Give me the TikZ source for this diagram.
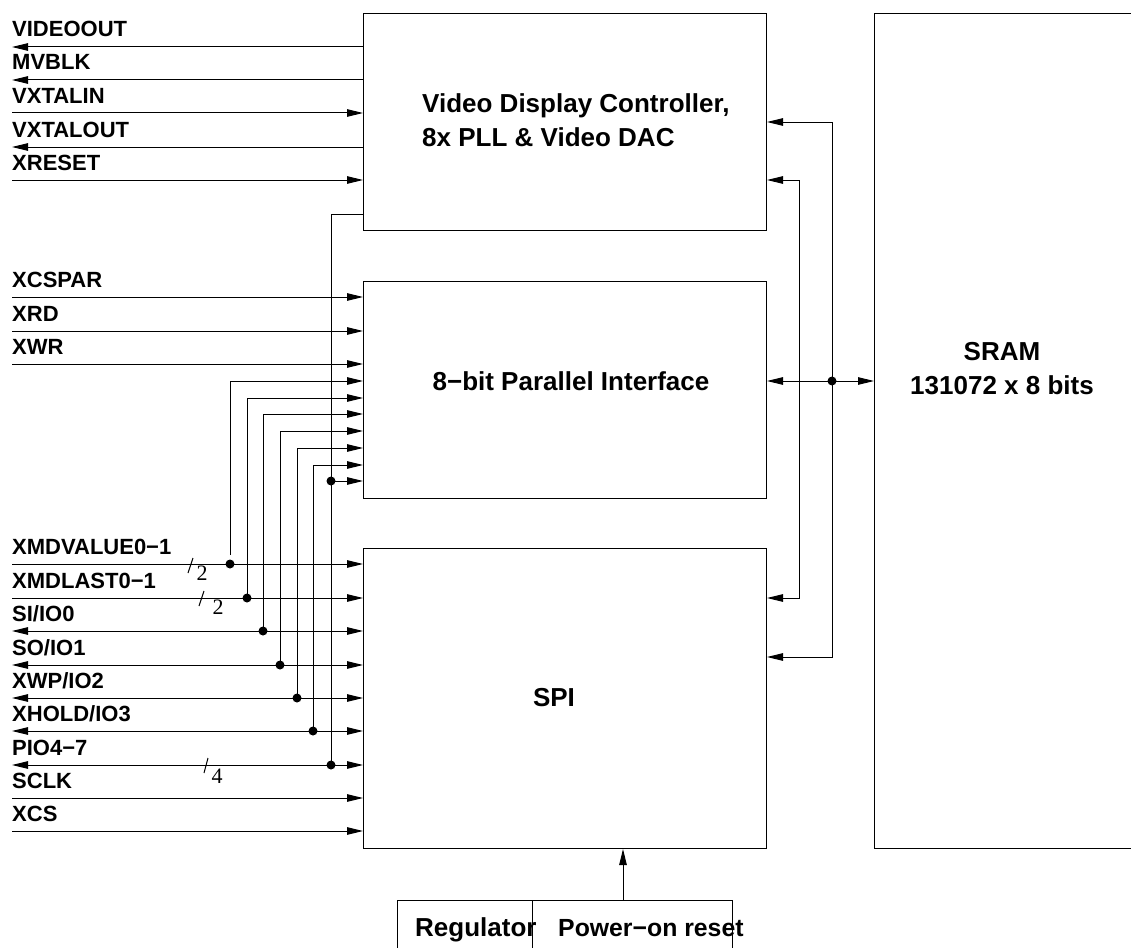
\documentclass[tikz,border=0pt]{standalone}
\usepackage{fontspec}
\setmainfont{Liberation Sans}
\newfontfamily\numfont{Liberation Serif}
\usetikzlibrary{arrows.meta}
\tikzset{
  sig/.style={line width=1pt},
  tip/.style={},
  sigin/.style={-{Triangle[length=16pt,width=7.5pt]}},
  sigout/.style={{Triangle[length=16pt,width=7.5pt]}-},
  sigbi/.style={{Triangle[length=16pt,width=7.5pt]}-{Triangle[length=16pt,width=7.5pt]}},
  blk/.style={draw, line width=1pt, inner sep=0pt, anchor=north west},
  lab/.style={font=\bfseries\fontsize{22}{22}\selectfont, anchor=base west, inner sep=0pt},
  boxlab/.style={font=\bfseries\fontsize{26}{34}\selectfont, inner sep=0pt},
  buslab/.style={font=\numfont\fontsize{22}{22}\selectfont, inner sep=0pt},
  jdot/.style={circle, fill, inner sep=0pt, minimum size=9pt}
}
\begin{document}
\begin{tikzpicture}[x=1pt,y=-1pt]
\useasboundingbox (0,0) rectangle (1131,947);
\clip (0,0) rectangle (1131,947);
\fill[white] (0,0) rectangle (1131,947);

% blocks
\node[blk, minimum width=403pt, minimum height=217pt] (vdc) at (363,13) {};
\node[blk, minimum width=403pt, minimum height=217pt] (par) at (363,281) {};
\node[blk, minimum width=403pt, minimum height=300pt] (spi) at (363,548) {};
\node[blk, minimum width=280pt, minimum height=835pt] (sram) at (874,13) {};
\node[blk, minimum width=135pt, minimum height=80pt] (reg) at (397,900) {};
\node[blk, minimum width=200pt, minimum height=80pt] (pwr) at (532,900) {};

% block labels
\node[boxlab, align=left, anchor=west] (vdclab) at (422,120) {Video Display Controller,\\8x PLL \& Video DAC};
\node[boxlab, anchor=base] (parlab) at (571,390) {8−bit Parallel Interface};
\node[boxlab, anchor=base] (spilab) at (554,706) {SPI};
\node[boxlab, align=center, anchor=base] (sramlab) at (1002,394) {SRAM\\131072 x 8 bits};
\node[boxlab, anchor=base west] (reglab) at (415,936) {Regulator};
\node[boxlab, anchor=base west, font=\bfseries\fontsize{24.8}{30}\selectfont] (pwrlab) at (558,936) {Power−on reset};

% video controller signals
\foreach \y/\t/\s/\n in {47/VIDEOOUT/sigout/a, 80/MVBLK/sigout/b, 113/VXTALIN/sigin/c, 147/VXTALOUT/sigout/d, 180/XRESET/sigin/e}{
  \coordinate (v\n) at (12,\y);
  \node[lab] (lv\n) at (12,\y-10) {\t};
  \draw[sig,\s] (v\n) -- (v\n -| vdc.west);
}
% parallel interface signals
\foreach \y/\t/\n in {297/XCSPAR/a, 331/XRD/b, 364/XWR/c}{
  \coordinate (p\n) at (12,\y);
  \node[lab] (lp\n) at (12,\y-10) {\t};
  \draw[sig,sigin] (p\n) -- (p\n -| par.west);
}
% SPI signals
\foreach \y/\t/\s/\n in {564/XMDVALUE0−1/sigin/1, 598/XMDLAST0−1/sigin/2, 631/SI\slash IO0/sigbi/3, 665/SO\slash IO1/sigbi/4, 698/XWP\slash IO2/sigbi/5, 731/XHOLD\slash IO3/sigbi/6, 765/PIO4−7/sigbi/7, 798/SCLK/sigin/8, 831/XCS/sigin/9}{
  \coordinate (s\n) at (12,\y);
  \node[lab] (ls\n) at (12,\y-10) {\t};
  \draw[sig,\s] (s\n) -- (s\n -| spi.west);
}

% taps from SPI lines to the parallel interface
\foreach \x/\py/\n/\e in {230/381/1/9, 247/398/2/0, 263/414/3/0, 280/431/4/0, 297/448/5/0, 313/465/6/0}{
  \node[jdot] (d\n) at (s\n -| \x,0) {};
  \coordinate (q\n) at (par.west |- 0,\py);
  \draw[sig,sigin] ([yshift=\e pt]d\n.center) -- (d\n.center |- q\n) -- (q\n);
}
% tap from video controller down to PIO4-7
\node[jdot] (d7) at (s7 -| 331,0) {};
\node[jdot] (d7p) at (331,481) {};
\coordinate (t7) at (331,214);
\draw[sig] (t7 -| vdc.west) -- (t7) -- (d7.center);
\draw[sig,sigin] (d7p.center) -- (d7p -| par.west);

% bus width marks
\draw[sig] (188,573) -- (193,558);
\node[buslab] (w1) at (202,573) {2};
\draw[sig] (199,606) -- (204,591);
\node[buslab] (w2) at (218,607) {2};
\draw[sig] (204,773) -- (208,758);
\node[buslab] (w3) at (217,776) {4};

% memory buses on the right
\coordinate (r1) at (832,122);
\coordinate (r2) at (799,180);
\draw[sig,sigbi] (vdc.east |- r1) -- (r1) -- (r1 |- 0,657) -- (spi.east |- 0,657);
\draw[sig,sigbi] (vdc.east |- r2) -- (r2) -- (r2 |- 0,598) -- (spi.east |- 0,598);
\node[jdot] (dm) at (832,381) {};
\draw[sig,sigbi] (par.east |- dm) -- (sram.west |- dm);

% power-on reset to SPI
\draw[sig,sigin] (pwr.north -| 623,0) -- (spi.south -| 623,0);
\end{tikzpicture}
\end{document}
